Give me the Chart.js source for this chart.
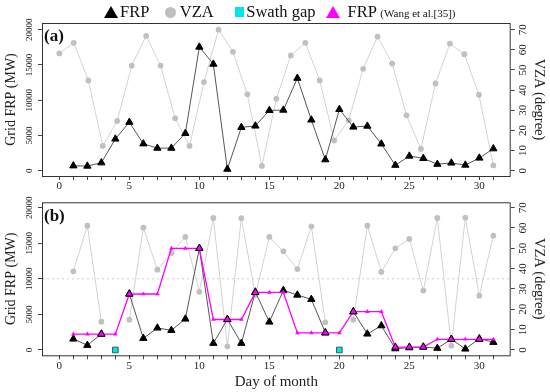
<!DOCTYPE html>
<html>
<head>
<meta charset="utf-8">
<script src="https://cdn.jsdelivr.net/npm/chart.js@4.4.1/dist/chart.umd.min.js"></script>
<style>
  html, body { margin: 0; padding: 0; background: #fff; }
  #wrap { position: relative; width: 550px; height: 392px; overflow: hidden; font-family: 'Liberation Serif', 'Times New Roman', serif; }
  .panel { position: absolute; left: 0; }
  #panelA { top: 0; }
  #panelB { top: 196px; }
  #legend { position: absolute; top: 2px; left: 104px; height: 20px; display: flex; align-items: center; font-size: 16.5px; color: #111; white-space: nowrap; z-index: 2; }
  #legend .tri { width: 0; height: 0; border-left: 7px solid transparent; border-right: 7px solid transparent; border-bottom: 12px solid #000; margin-right: 2px; }
  #legend .tri.pink { border-bottom-color: #ff00ff; margin-right: 7px; }
  #legend .dot { width: 11px; height: 11px; border-radius: 50%; background: #bebebe; margin-right: 3.5px; }
  #legend .sq { width: 9.5px; height: 9.5px; background: #00e5e5; margin-right: 2px; }
  #legend .lbl { margin-right: 16px; }
  #legend .lbl.wide { margin-right: 21px; }
  #legend .lbl.gap { margin-right: 11px; }
  #legend small { font-size: 11px; }
</style>
</head>
<body>
<div id="wrap">
  <div id="legend">
    <span class="tri"></span><span class="lbl">FRP</span>
    <span class="dot"></span><span class="lbl wide">VZA</span>
    <span class="sq"></span><span class="lbl gap">Swath gap</span>
    <span class="tri pink"></span><span>FRP <small>(Wang et al.[35])</small></span>
  </div>
  <canvas id="panelA" class="panel" width="550" height="196"></canvas>
  <canvas id="panelB" class="panel" width="550" height="196"></canvas>
</div>
<script>
// days of the month
const days = [1, 2, 3, 4, 5, 6, 7, 8, 9, 10, 11, 12, 13, 14, 15, 16, 17, 18, 19, 20, 21, 22, 23, 24, 25, 26, 27, 28, 29, 30, 31];

// panel (a)
const frpA = [700, 660, 1130, 4500, 6880, 3820, 3200, 3200, 5300, 17540, 15120, 220, 6150, 6350, 8550, 8600, 13120, 7200, 1560, 8700, 6200, 6330, 3800, 780, 2080, 1750, 920, 1100, 800, 1800, 3120];
const vzaDaysA = [0, 1.03, 2.07, 3.1, 4.13, 5.17, 6.2, 7.23, 8.27, 9.3, 10.33, 11.37, 12.4, 13.43, 14.47, 15.5, 16.53, 17.57, 18.6, 19.63, 20.67, 21.7, 22.73, 23.77, 24.8, 25.83, 26.87, 27.9, 28.93, 29.97, 31];
const vzaA = [58.2, 63.5, 44.8, 12.3, 24.7, 52.1, 66.9, 52.2, 26, 12.3, 44, 70, 59, 37.9, 2.4, 35.7, 57.2, 63.5, 44.8, 15, 25, 50.6, 66.6, 53.2, 27.5, 10.8, 43.3, 63.1, 57.8, 37.7, 2.6];

// panel (b)
const frpB = [1545, 660, 2250, null, 7865, 1640, 3090, 2760, 4350, 14280, 940, 4310, 940, 8150, 3930, 8380, 7720, 7120, 2430, null, 5380, 2250, 3410, 180, 320, 420, 240, 1500, 140, 1590, 1080];
const vzaB = [38.7, 61.1, 13.9, null, 14.9, 60.2, 39.5, 47.7, 55.6, 28.6, 64.9, 1.8, 64.8, 27, 55.6, 48.5, 39.8, 60.8, 13.6, null, 14.9, 61.1, 38.4, 50, 54.6, 29.2, 64.9, 2.1, 65.1, 26.7, 56.2];
const wangB = [2220, 2220, 2220, 2220, 7865, 7865, 7865, 14280, 14280, 14280, 4280, 4280, 4280, 8080, 8080, 8080, 2400, 2400, 2400, 2400, 5380, 5380, 5380, 400, 400, 400, 1500, 1500, 1500, 1500, 1500];
const wangMatchDays = [3, 5, 10, 12, 14, 19, 21, 24, 25, 26, 28, 30];
const gapDays = [4, 20];
const gapFrp = [0, 0];
const vzaLimit = 35;

// axes
const xMin = -1.24, xMax = 32.24;
const dayTicks = [0, 1, 2, 3, 4, 5, 6, 7, 8, 9, 10, 11, 12, 13, 14, 15, 16, 17, 18, 19, 20, 21, 22, 23, 24, 25, 26, 27, 28, 29, 30, 31];
const frpTicks = [0, 5000, 10000, 15000, 20000];
const vzaTicks = [0, 10, 20, 30, 40, 50, 60, 70];

const FONT = "'Liberation Serif', 'Times New Roman', serif";
const MW_PER_DEG = 20000 / 70;

const pts = (xs, ys) => xs.map((x, i) => ({ x, y: ys[i] }));

const frameAndLabels = {
    id: 'frameAndLabels',
    afterDraw(chart, args, opts) {
        const { ctx, chartArea: a } = chart;
        ctx.save();
        ctx.strokeStyle = '#333';
        ctx.lineWidth = 1;
        ctx.strokeRect(a.left + 0.5, a.top + 0.5, a.right - a.left - 1, a.bottom - a.top);

        // rotated y tick labels, both sides
        ctx.fillStyle = '#222';
        ctx.textAlign = 'center';
        ctx.textBaseline = 'middle';
        const sides = [['y', -12.5, 9], ['y2', 12.5, 11]];
        sides.forEach(([id, dx, size]) => {
            const s = chart.scales[id];
            const x = id === 'y' ? s.right + dx : s.left + dx;
            ctx.font = size + 'px ' + FONT;
            s.ticks.forEach(t => {
                ctx.save();
                ctx.translate(x, s.getPixelForValue(t.value));
                ctx.rotate(-Math.PI / 2);
                ctx.fillText(String(t.value), 0, 0);
                ctx.restore();
            });
        });

        ctx.font = 'bold 17px ' + FONT;
        ctx.textAlign = 'left';
        ctx.fillStyle = '#111';
        ctx.fillText(opts.tag, a.left + 2, a.top + 14);
        ctx.restore();
    }
};

function makeScales(yMin, yMax, xHeight, withTitle) {
    const tickGrid = { drawOnChartArea: false, drawTicks: true, tickLength: 4, color: '#444', lineWidth: 1 };
    return {
        x: {
            type: 'linear', min: xMin, max: xMax,
            afterBuildTicks: s => { s.ticks = dayTicks.map(v => ({ value: v })); },
            afterFit: s => { s.height = xHeight; },
            grid: tickGrid,
            border: { display: false },
            ticks: {
                autoSkip: false, maxRotation: 0, padding: 0,
                font: { size: 11, family: FONT }, color: '#222',
                callback: v => (v % 5 === 0 ? v : ''),
            },
            title: {
                display: withTitle, text: 'Day of month',
                font: { size: 15, family: FONT }, color: '#222',
                padding: { top: 0, bottom: 1 },
            },
        },
        y: {
            position: 'left', min: yMin, max: yMax,
            afterBuildTicks: s => { s.ticks = frpTicks.map(v => ({ value: v })); },
            afterFit: s => { s.width = 42; },
            grid: tickGrid,
            border: { display: false },
            ticks: { display: false },
            title: {
                display: true, text: 'Grid FRP (MW)',
                font: { size: 14, family: FONT }, color: '#222',
                padding: { top: 3, bottom: 0 },
            },
        },
        y2: {
            position: 'right', min: yMin / MW_PER_DEG, max: yMax / MW_PER_DEG,
            afterBuildTicks: s => { s.ticks = vzaTicks.map(v => ({ value: v })); },
            afterFit: s => { s.width = 39.3; },
            grid: tickGrid,
            border: { display: false },
            ticks: { display: false },
            title: {
                display: true, text: 'VZA (degree)',
                font: { size: 14.5, family: FONT }, color: '#222',
                padding: { top: 2, bottom: 0 },
            },
        },
    };
}

const baseOptions = (tag, padTop, scales) => ({
    responsive: false,
    animation: false,
    layout: { padding: { top: padTop, left: 0, right: 0, bottom: 0 } },
    plugins: { legend: { display: false }, tooltip: { enabled: false }, frameAndLabels: { tag } },
    scales,
});

// panel (a)
new Chart(document.getElementById('panelA'), {
    type: 'line',
    data: {
        datasets: [
            {
                label: 'FRP', data: pts(days, frpA), yAxisID: 'y', order: 1,
                borderColor: '#555', borderWidth: 1,
                pointStyle: 'triangle', pointRadius: 4.2, pointBackgroundColor: '#000',
                pointBorderColor: '#000', pointBorderWidth: 1,
            },
            {
                label: 'VZA', data: pts(vzaDaysA, vzaA), yAxisID: 'y2', order: 2,
                borderColor: '#d3d3d3', borderWidth: 1,
                pointStyle: 'circle', pointRadius: 2.9, pointBackgroundColor: '#c0c0c0',
                pointBorderWidth: 0,
            },
        ],
    },
    options: baseOptions('(a)', 23, makeScales(-750, 20950, 20, false)),
    plugins: [frameAndLabels],
});

// panel (b)
const wangBig = days.map(d => wangMatchDays.includes(d));
new Chart(document.getElementById('panelB'), {
    type: 'line',
    data: {
        datasets: [
            {
                label: 'VZA limit', data: [{ x: xMin, y: vzaLimit }, { x: xMax, y: vzaLimit }], yAxisID: 'y2', order: 6,
                borderColor: '#cfcfcf', borderWidth: 1, borderDash: [2, 3], pointRadius: 0,
            },
            {
                label: 'VZA', data: pts(days, vzaB), yAxisID: 'y2', order: 5, spanGaps: false,
                borderColor: '#d3d3d3', borderWidth: 1,
                pointStyle: 'circle', pointRadius: 2.9, pointBackgroundColor: '#c0c0c0',
                pointBorderWidth: 0,
            },
            {
                label: 'FRP', data: pts(days, frpB), yAxisID: 'y', order: 3, spanGaps: false,
                borderColor: '#555', borderWidth: 1,
                pointStyle: 'triangle', pointRadius: 4.2, pointBackgroundColor: '#000',
                pointBorderColor: '#000', pointBorderWidth: 1,
            },
            {
                label: 'FRP (Wang et al.[35])', data: pts(days, wangB), yAxisID: 'y', order: 2,
                borderColor: '#ff00ff', borderWidth: 1.3,
                pointStyle: 'triangle',
                pointRadius: wangBig.map(b => (b ? 4.2 : 2.6)),
                pointBackgroundColor: '#ff00ff',
                pointBorderColor: wangBig.map(b => (b ? '#000' : '#ff00ff')),
                pointBorderWidth: wangBig.map(b => (b ? 1 : 0)),
            },
            {
                label: 'Swath gap', data: pts(gapDays, gapFrp), yAxisID: 'y', order: 1, showLine: false,
                pointStyle: 'rect', pointRadius: 4, pointBackgroundColor: '#00e5e5',
                pointBorderColor: '#333', pointBorderWidth: 0.8,
            },
        ],
    },
    options: baseOptions('(b)', 6.3, makeScales(-750, 20750, 36.7, true)),
    plugins: [frameAndLabels],
});
</script>
</body>
</html>
